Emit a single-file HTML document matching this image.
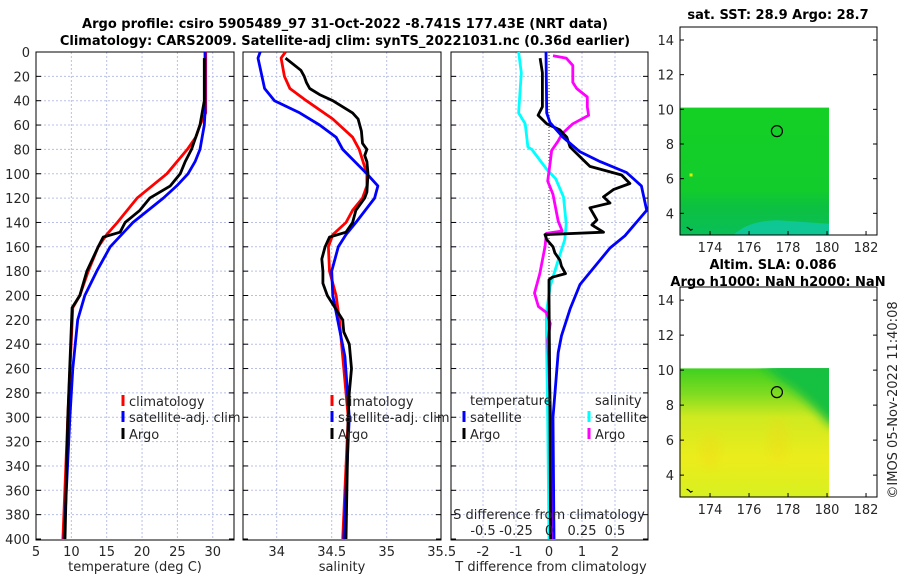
<!DOCTYPE html>
<html><head><meta charset="utf-8"><style>
body{margin:0;background:#fff}
svg{display:block;font-family:"DejaVu Sans","Liberation Sans",sans-serif}
.t{font-size:13px;fill:#262626}
.b{font-size:13px;font-weight:bold;fill:#000}
</style></head><body>
<svg id="c" width="900" height="580" viewBox="0 0 900 580">
<defs>
<linearGradient id="sstg" x1="0" y1="0" x2="0" y2="1">
<stop offset="0" stop-color="#14d024"/><stop offset="0.65" stop-color="#12cc2c"/><stop offset="0.78" stop-color="#0cc040"/><stop offset="1" stop-color="#0abf58"/></linearGradient>
<linearGradient id="slag" x1="0" y1="0" x2="0" y2="1">
<stop offset="0" stop-color="#40d020"/><stop offset="0.2" stop-color="#80dc20"/><stop offset="0.38" stop-color="#d0ea20"/><stop offset="0.7" stop-color="#ecec1c"/><stop offset="1" stop-color="#d8f020"/></linearGradient>
<filter id="blur" x="-20%" y="-20%" width="140%" height="140%"><feGaussianBlur stdDeviation="5"/></filter>
<clipPath id="slaclip"><rect x="680" y="368" width="149" height="129"/></clipPath>
</defs>
<text class="b" x="345" y="28" text-anchor="middle">Argo profile: csiro 5905489_97 31-Oct-2022 -8.741S 177.43E (NRT data)</text>
<text class="b" x="345" y="45" text-anchor="middle">Climatology: CARS2009. Satellite-adj clim: synTS_20221031.nc (0.36d earlier)</text>
<g id="g"></g>
</svg>
<script>
// temperature profiles
const tempClimDepth = [0,50,60,70,80,100,120,140,150,160,180,200,210,300,400];
const tempClim = [29.0,29.0,28.2,27.6,26.4,23.5,19.3,16.5,15.0,13.8,12.4,11.2,10.2,9.5,8.8];
const tempSatDepth = [0,50,60,80,90,100,110,120,140,160,180,200,220,260,300,400];
const tempSat = [28.9,28.9,28.8,28.2,27.5,26.5,24.9,23.0,18.7,15.5,13.6,11.9,10.9,10.2,9.8,8.96];
const tempArgoDepth = [5,40,60,80,90,100,110,120,130,140,148,152,160,180,200,210,300,400];
const tempArgo = [28.8,28.8,28.2,27.0,26.1,25.4,24.0,21.1,19.7,17.6,16.9,14.5,13.8,12.2,11.2,10.1,9.5,9.1];
// salinity profiles
const salClimDepth = [0,5,20,30,40,55,70,80,100,110,120,130,140,150,160,180,200,220,300,400];
const salClim = [34.08,34.04,34.07,34.12,34.27,34.51,34.69,34.75,34.82,34.82,34.78,34.69,34.63,34.51,34.47,34.48,34.54,34.57,34.65,34.60];
const salSatDepth = [0,5,30,40,50,60,70,75,80,100,110,120,140,150,160,180,200,250,300,400];
const salSat = [33.85,33.83,33.89,33.98,34.21,34.39,34.54,34.57,34.60,34.82,34.92,34.89,34.72,34.63,34.56,34.50,34.51,34.62,34.66,34.61];
const salArgoDepth = [5,10,15,20,25,30,35,40,45,50,55,65,75,80,85,90,100,115,120,130,140,148,152,160,170,180,190,200,220,230,240,260,280,300,400];
const salArgo = [34.08,34.15,34.22,34.25,34.27,34.30,34.39,34.51,34.60,34.69,34.74,34.77,34.78,34.82,34.80,34.82,34.83,34.82,34.80,34.72,34.69,34.63,34.48,34.44,34.41,34.42,34.42,34.46,34.60,34.61,34.66,34.68,34.66,34.65,34.63];
// differences
const dTsatDepth = [0,50,58,70,82,90,99,110,130,151,161,191,211,233,247,300,400];
const dTsat = [-0.09,-0.07,0.03,0.42,0.94,1.55,2.35,2.8,2.96,2.3,1.85,0.94,0.64,0.38,0.28,0.12,0.15];
const dTargoDepth = [5,17,45,52,59,64,70,78,86,94,101,108,113,119,124,128,138,142,148,150,154,160,165,171,176,182,185,187,200,300,400];
const dTargo = [-0.27,-0.2,-0.2,-0.33,-0.07,0.33,0.54,0.64,0.94,1.24,2.2,2.45,1.95,1.65,1.85,1.24,1.45,1.3,1.65,-0.12,-0.07,0.12,0.18,0.33,0.38,0.5,0.1,0.0,0.0,0.03,0.05];
const dSsatDepth = [0,17,50,59,78,80,96,104,119,141,154,171,192,214,230,300,400];
const dSsat = [-0.23,-0.21,-0.23,-0.18,-0.16,-0.13,-0.02,0.05,0.11,0.13,0.12,0.07,0.01,-0.02,-0.02,-0.01,0.0];
const dSargoDepth = [3,5,11,25,30,37,45,52,59,67,73,81,90,106,117,128,139,147,149,160,182,198,209,214,223,237,260,320,400];
const dSargo = [0.03,0.13,0.18,0.18,0.21,0.29,0.29,0.3,0.18,0.1,0.07,0.02,0.01,-0.01,0.03,0.05,0.07,0.1,-0.02,-0.03,-0.07,-0.11,-0.08,-0.02,0.01,-0.01,0.0,0.02,0.03];
// ticks
const depthTicks = [0,20,40,60,80,100,120,140,160,180,200,220,240,260,280,300,320,340,360,380,400];
const tempTicks = [5,10,15,20,25,30];
const salTicks = [34,34.5,35,35.5];
const dTTicks = [-2,-1,0,1,2];
const dSTicks = [-0.5,-0.25,0,0.25,0.5];
const latTicks = [4,6,8,10,12,14];
const lonTicks = [174,176,178,180,182];

const NS='http://www.w3.org/2000/svg';
const G=document.getElementById('g');
function mk(tag,attrs,parent){const e=document.createElementNS(NS,tag);for(const k in attrs)e.setAttribute(k,attrs[k]);(parent||G).appendChild(e);return e;}
const yD=d=>52+d*1.2175;
const xT=t=>36+(t-5)*7.07;
const xS=s=>276.7+(s-34)*110;
const xDT=v=>549+v*33;
const xDS=v=>549+v*132;

function panel(name,x0,x1,gridXs){
  const g=mk('g',{});
  
  
  gridXs.forEach(x=>{const l=mk('line',{x1:x,x2:x,y1:52,y2:540,stroke:'#b8c0e8','stroke-width':1,'stroke-dasharray':'2,2'},g);
    
    });
  depthTicks.forEach(d=>{if(d>0&&d<400){const l=mk('line',{x1:x0,x2:x1,y1:yD(d),y2:yD(d),stroke:'#b8c0e8','stroke-width':1,'stroke-dasharray':'2,2'},g);
    
    }
    mk('line',{x1:x0,x2:x0+5,y1:yD(d),y2:yD(d),stroke:'#000'},g);
    mk('line',{x1:x1-5,x2:x1,y1:yD(d),y2:yD(d),stroke:'#000'},g);});
  const r=mk('rect',{x:x0,y:52,width:x1-x0,height:488,fill:'none',stroke:'#000','stroke-width':1},g);
  
  
  return g;
}
function series(name,ds,vs,fx,color,w){
  const pts=ds.map((d,i)=>fx(vs[i]).toFixed(1)+','+yD(d).toFixed(1)).join(' ');
  const p=mk('polyline',{points:pts,fill:'none',stroke:color,'stroke-width':w||2.8,'stroke-linejoin':'round'});
  
  
}
function text(name,s,x,y,anchor,cls){
  const t=mk('text',{x:x,y:y,'text-anchor':anchor||'middle',class:cls||'t'});t.textContent=s;
  
  
  return t;
}
function legendEntry(name,color,x,y,label){
  const m=mk('rect',{x:x-1.5,y:y-11,width:3,height:11,fill:color});
  
  
  text(name,label,x+6,y,'start');
}

// panel 1 temperature
panel('temperature-panel',36,234,tempTicks.slice(1).map(xT));
series('temp-climatology-line',tempClimDepth,tempClim,xT,'#ff0000');
series('temp-satellite-line',tempSatDepth,tempSat,xT,'#0000ff');
series('temp-argo-line',tempArgoDepth,tempArgo,xT,'#000000');
depthTicks.forEach(d=>text('y-tick-label',String(d),30,yD(d)+5,'end'));
tempTicks.forEach(t=>text('x-tick-label',String(t),xT(t),556));
text('x-axis-title-temperature','temperature (deg C)',135,571);
legendEntry('legend-climatology','#ff0000',123,406,'climatology');
legendEntry('legend-satellite-adj','#0000ff',123,422,'satellite-adj. clim');
legendEntry('legend-argo','#000000',123,439,'Argo');

// panel 2 salinity
panel('salinity-panel',243,441,[34,34.5,35].map(xS));
series('sal-climatology-line',salClimDepth,salClim,xS,'#ff0000');
series('sal-satellite-line',salSatDepth,salSat,xS,'#0000ff');
series('sal-argo-line',salArgoDepth,salArgo,xS,'#000000');
salTicks.forEach(t=>text('x-tick-label',String(t),xS(t),556));
text('x-axis-title-salinity','salinity',342,571);
legendEntry('legend-climatology-sal','#ff0000',332,406,'climatology');
legendEntry('legend-satellite-adj-sal','#0000ff',332,422,'satellite-adj. clim');
legendEntry('legend-argo-sal','#000000',332,439,'Argo');

// panel 3 differences
panel('difference-panel',451,648,dTTicks.filter(v=>v!==0).map(xDT));
const zl=mk('line',{x1:549,x2:549,y1:52,y2:540,stroke:'#333','stroke-width':1,'stroke-dasharray':'1,2'});


series('dS-satellite-line',dSsatDepth,dSsat,xDS,'#00ffff');
series('dS-argo-line',dSargoDepth,dSargo,xDS,'#ff00ff');
series('dT-argo-line',dTargoDepth,dTargo,xDT,'#000000');
series('dT-satellite-line',dTsatDepth,dTsat,xDT,'#0000ff');
dTTicks.forEach(t=>text('x-tick-label',String(t),xDT(t),556));
text('x-axis-title-tdiff','T difference from climatology',551,571);
text('s-axis-title','S difference from climatology',549,519);
dSTicks.forEach(t=>text('s-tick-label',String(t),xDS(t),535));
text('legend-temperature-header','temperature',470,405,'start');
text('legend-salinity-header','salinity',595,405,'start');
legendEntry('legend-t-satellite','#0000ff',464,422,'satellite');
legendEntry('legend-t-argo','#000000',464,439,'Argo');
legendEntry('legend-s-satellite','#00ffff',589,422,'satellite');
legendEntry('legend-s-argo','#ff00ff',589,439,'Argo');

// maps
function mapPanel(name,top,bottom,fill,overlay){
  const g=mk('g',{});
  
  
  const lat0=2.75, pxPerDeg=(bottom-top)/12;
  const yL=l=>bottom-(l-lat0)*pxPerDeg;
  const xL=l=>680+(l-172.46)*19.5;
  const r=mk('rect',{x:680,y:yL(10.1),width:xL(180.1)-680,height:bottom-yL(10.1),fill:fill},g);
  
  
  if(overlay) overlay(g,xL,yL);
  const c=mk('circle',{cx:xL(177.43),cy:yL(8.741),r:5.5,fill:'none',stroke:'#000','stroke-width':1.2},g);
  
  
  mk('path',{d:`M${xL(172.8)} ${yL(3.2)} l2 1 l2 2 l2 -1`,stroke:'#000',fill:'none','stroke-width':1.2},g);
  const f=mk('rect',{x:680,y:top,width:197,height:bottom-top,fill:'none',stroke:'#000'},g);
  
  
  latTicks.forEach(l=>{mk('line',{x1:680,x2:684,y1:yL(l),y2:yL(l),stroke:'#000'},g);mk('line',{x1:873,x2:877,y1:yL(l),y2:yL(l),stroke:'#000'},g);
    text('lat-tick-label',String(l),674,yL(l)+5,'end');});
  lonTicks.forEach(l=>{mk('line',{x1:xL(l),x2:xL(l),y1:bottom-4,y2:bottom,stroke:'#000'},g);
    text('lon-tick-label',String(l),xL(l),bottom+17);});
}
mapPanel('sst-map',27,235,'url(#sstg)',(g,xL,yL)=>{
  mk('path',{d:`M${xL(175.2)} ${yL(2.75)} Q${xL(176)} ${yL(3.6)} ${xL(177.5)} ${yL(3.6)} L${xL(180.1)} ${yL(3.4)} L${xL(180.1)} ${yL(2.75)} Z`,fill:'#10c8a0',opacity:0.85},g);
  mk('rect',{x:xL(172.95),y:yL(6.3),width:3,height:3,fill:'#e0f000'},g);
});
mapPanel('sla-map',287,497,'url(#slag)',(g,xL,yL)=>{
  const cg=mk('g',{'clip-path':'url(#slaclip)'},g);
  mk('path',{d:`M${xL(176.5)} ${yL(10.5)} L${xL(181)} ${yL(10.5)} L${xL(181)} ${yL(6.6)} L${xL(180.1)} ${yL(6.9)} Q${xL(178.8)} ${yL(8.6)} ${xL(177.6)} ${yL(9.4)} Z`,fill:'#12c040',filter:'url(#blur)'},cg);
  mk('ellipse',{cx:xL(177.5),cy:yL(6),rx:10,ry:22,fill:'#f0d818',opacity:0.35,filter:'url(#blur)'},cg);
  mk('ellipse',{cx:xL(174),cy:yL(5.4),rx:10,ry:18,fill:'#f0d818',opacity:0.35,filter:'url(#blur)'},cg);
});
text('sst-map-title','sat. SST: 28.9 Argo: 28.7',778,19,'middle','b');
text('sla-map-title-1','Altim. SLA: 0.086',773,269,'middle','b');
text('sla-map-title-2','Argo h1000: NaN h2000: NaN',778,286,'middle','b');
const ts=text('timestamp','©IMOS 05-Nov-2022 11:40:08',0,0,'middle');
ts.setAttribute('transform','translate(897,400) rotate(-90)');
</script>
</body></html>
